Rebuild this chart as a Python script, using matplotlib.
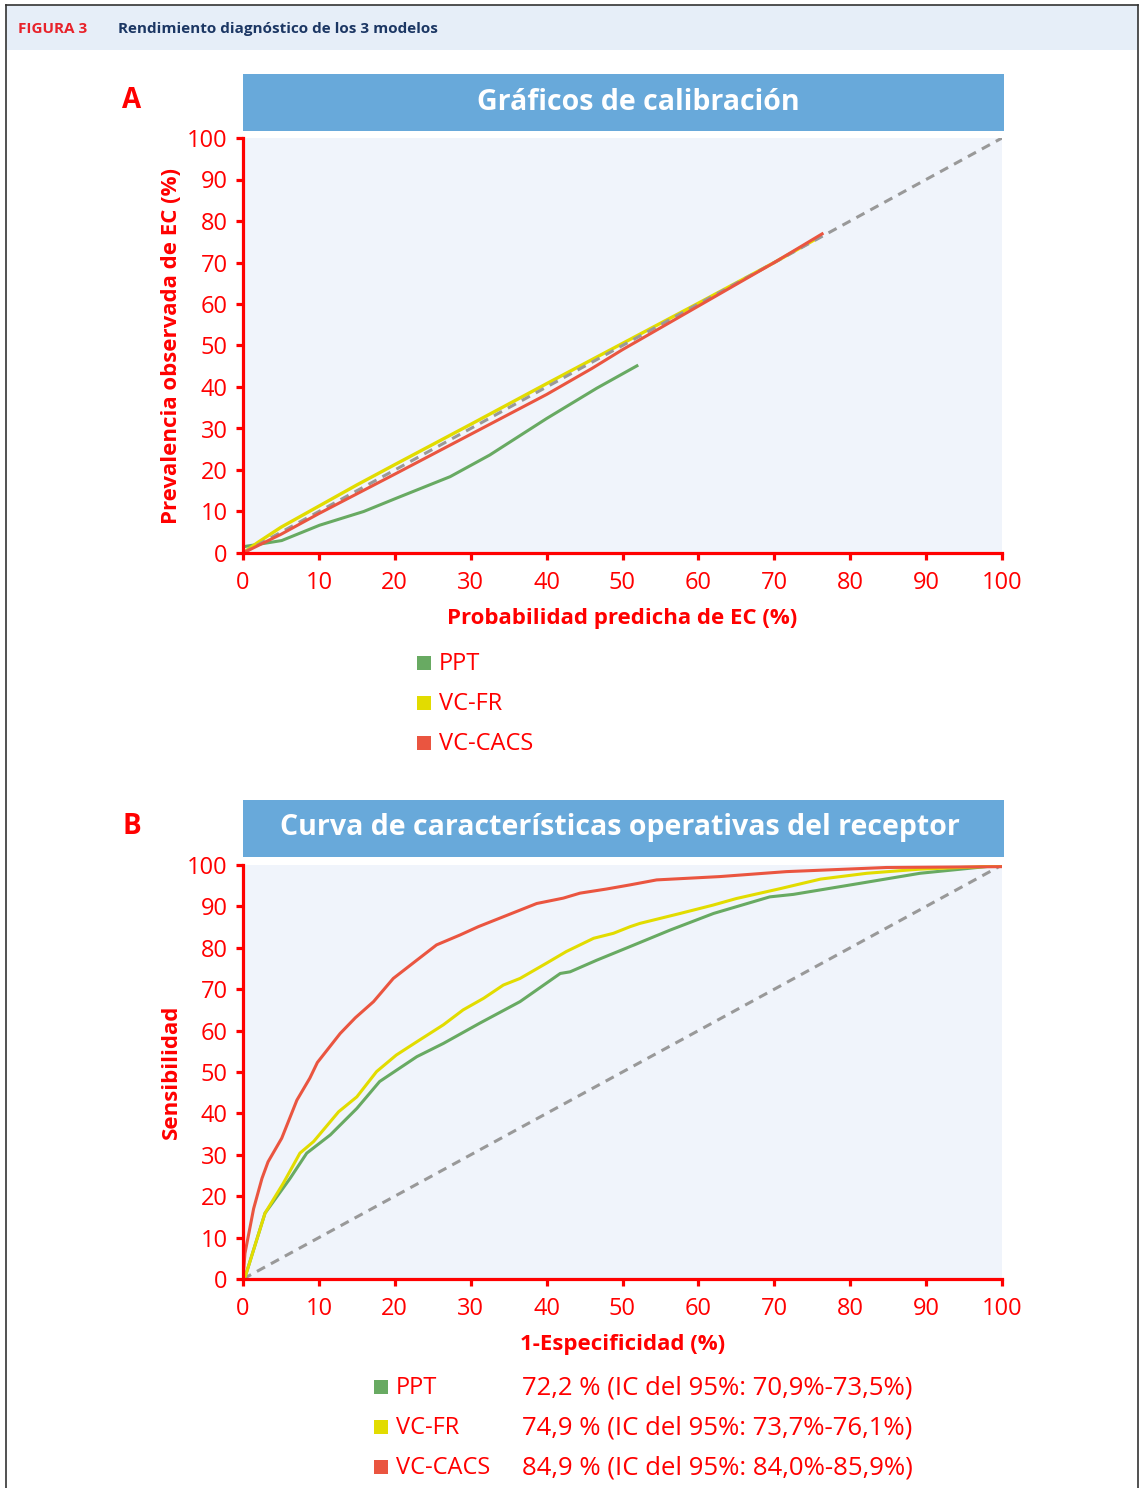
import numpy as np
import matplotlib
matplotlib.use("Agg")
import matplotlib.pyplot as plt
from matplotlib.patches import Rectangle

plt.rcParams['font.family'] = ['Open Sans', 'DejaVu Sans']

# ---- data ----
models = ['PPT', 'VC-FR', 'VC-CACS']
colors = ['#68aa62', '#e2dc00', '#ea5540']
auc_text = ['72,2 % (IC del 95%: 70,9%-73,5%)',
            '74,9 % (IC del 95%: 73,7%-76,1%)',
            '84,9 % (IC del 95%: 84,0%-85,9%)']

# calibration curves
cal_ppt_x = [0, 5.1, 10.1, 15.9, 20.2, 27.3, 32.5, 40, 46.6, 51.9]
cal_ppt_y = [1.5, 3.0, 6.7, 10.0, 13.2, 18.4, 23.6, 32.4, 39.7, 45.1]
cal_fr_x = [0, 2, 5, 10, 15, 20, 30, 40, 50, 60, 70, 76]
cal_fr_y = [0, 2.6, 6.2, 11.3, 16.4, 21.3, 31.0, 40.8, 50.5, 60.2, 70.0, 76.2]
cal_cacs_x = [0, 5, 10, 20, 30, 40, 46, 50, 60, 70, 76.3]
cal_cacs_y = [0, 4.5, 9.5, 19.0, 28.6, 38.2, 44.5, 49.0, 59.5, 70.0, 76.9]

# ROC curves (1-specificity, sensitivity)
roc_ppt_x = [0, 0.3, 2.9, 6.2, 8.4, 11.5, 15, 18, 22.9, 26.4, 31.2, 36.5, 41.8, 43.1,
             46.6, 51, 56.3, 62, 69.4, 72.5, 80.4, 89.2, 100]
roc_ppt_y = [0, 0.6, 15.9, 24.3, 30.4, 34.8, 41.2, 47.7, 53.7, 56.9, 61.8, 67.0, 73.8, 74.2,
             77.0, 80.3, 84.3, 88.3, 92.3, 92.9, 95.3, 98.0, 100]
roc_fr_x = [0, 0.3, 2.9, 5.3, 7.5, 9.3, 12.6, 15, 17.6, 20.2, 22.9, 26.4, 29, 31.7, 34.3,
            36.5, 40, 42.6, 46.2, 48.8, 51, 52.3, 57.6, 61.9, 65, 70.8, 76.1, 82.2, 89.2, 100]
roc_fr_y = [0, 0.6, 15.9, 23.1, 30.4, 33.2, 40.4, 44.0, 50.1, 54.1, 57.3, 61.4, 65.0, 67.8, 71.0,
            72.6, 76.3, 79.1, 82.3, 83.5, 85.1, 85.9, 88.3, 90.3, 91.9, 94.3, 96.6, 98.0, 99.0, 99.8]
roc_cacs_x = [0, 0.26, 1.4, 2.5, 3.3, 5.1, 7.1, 8.8, 9.8, 12.8, 14.8, 17.2, 19.8, 22.4, 25.5,
              28.6, 31, 34.3, 38.7, 42.2, 44.4, 47.9, 51, 54.5, 62.8, 71.6, 84.8, 100]
roc_cacs_y = [0, 6.2, 17.0, 24.3, 28.3, 34.0, 43.2, 48.5, 52.3, 59.3, 63.1, 67.0, 72.6, 76.3, 80.7,
              83.1, 85.1, 87.5, 90.7, 92.0, 93.2, 94.2, 95.2, 96.4, 97.2, 98.4, 99.4, 99.6]

ticks = list(range(0, 101, 10))

W, H = 1141, 1488
fig = plt.figure(figsize=(W / 100, H / 100), dpi=100)
RED = '#ff0000'


def fx(px):
    return px / W


def fy(py):
    return 1 - py / H


# header band and frame
fig.patches.append(Rectangle((fx(6), fy(50)), fx(1132), 45 / H, transform=fig.transFigure,
                             facecolor='#e6eef8', edgecolor='none'))
fig.lines.append(plt.Line2D([fx(6), fx(6)], [0, fy(5)], transform=fig.transFigure, color='#333333', lw=1.2))
fig.lines.append(plt.Line2D([fx(1138), fx(1138)], [0, fy(5)], transform=fig.transFigure, color='#333333', lw=1.2))
fig.lines.append(plt.Line2D([fx(6), fx(1138)], [fy(5), fy(5)], transform=fig.transFigure, color='#333333', lw=1.2))
fig.text(fx(18), fy(29), 'FIGURA 3', color='#e8222a', fontsize=11, fontweight='bold', va='center')
fig.text(fx(118), fy(29), 'Rendimiento diagnóstico de los 3 modelos', color='#1c3764',
         fontsize=11, fontweight='bold', va='center')


def make_axes(top, bottom, title, bar_top, letter, xlabel, ylabel, title_x):
    ax = fig.add_axes([fx(243), fy(bottom), fx(1002) - fx(243), (bottom - top) / H])
    ax.set_facecolor('#f0f4fb')
    ax.set_xlim(0, 100)
    ax.set_ylim(0, 100)
    ax.set_xticks(ticks)
    ax.set_yticks(ticks)
    for s in ['top', 'right']:
        ax.spines[s].set_visible(False)
    for s in ['left', 'bottom']:
        ax.spines[s].set_color(RED)
        ax.spines[s].set_linewidth(2.3)
    ax.tick_params(colors=RED, labelcolor=RED, width=2.3, length=5, labelsize=17, pad=6)
    ax.tick_params(axis='x', pad=8)
    ax.set_xlabel(xlabel, color=RED, fontsize=16, fontweight='bold', labelpad=9)
    ax.set_ylabel(ylabel, color=RED, fontsize=16, fontweight='bold', labelpad=4)
    # title bar
    fig.patches.append(Rectangle((fx(243), fy(bar_top + 57)), fx(1004) - fx(243), 57 / H,
                                 transform=fig.transFigure, facecolor='#68a9da', edgecolor='none'))
    fig.text(fx(title_x), fy(bar_top + 28), title, color='white', fontsize=20.5, fontweight='bold',
             ha='center', va='center')
    fig.text(fx(132), fy(bar_top + 27), letter, color=RED, fontsize=20, fontweight='bold',
             ha='center', va='center')
    return ax


axA = make_axes(138, 553, 'Gráficos de calibración', 74, 'A',
                'Probabilidad predicha de EC (%)', 'Prevalencia observada de EC (%)', 638)
axA.plot(cal_ppt_x, cal_ppt_y, color=colors[0], lw=2.2)
axA.plot(cal_fr_x, cal_fr_y, color=colors[1], lw=2.4)
axA.plot([0, 100], [0, 100], color='#999999', lw=2.2, ls=(0, (3, 2.2)))
axA.plot(cal_cacs_x, cal_cacs_y, color=colors[2], lw=2.2)

axB = make_axes(865, 1279, 'Curva de características operativas del receptor', 800, 'B',
                '1-Especificidad (%)', 'Sensibilidad', 620)
axB.plot([0, 100], [0, 100], color='#999999', lw=2.2, ls=(0, (3, 2.2)))
axB.plot(roc_ppt_x, roc_ppt_y, color=colors[0], lw=2.2)
axB.plot(roc_fr_x, roc_fr_y, color=colors[1], lw=2.2)
axB.plot(roc_cacs_x, roc_cacs_y, color=colors[2], lw=2.2)

# legends
for i, m in enumerate(models):
    y = 663 + 40 * i
    fig.patches.append(Rectangle((fx(417), fy(y + 7)), 14 / W, 14 / H, transform=fig.transFigure,
                                 facecolor=colors[i], edgecolor='none'))
    fig.text(fx(439), fy(y + 1), m, color=RED, fontsize=17, va='center')

for i, m in enumerate(models):
    y = 1387 + 40 * i
    fig.patches.append(Rectangle((fx(374), fy(y + 7)), 14 / W, 14 / H, transform=fig.transFigure,
                                 facecolor=colors[i], edgecolor='none'))
    fig.text(fx(396), fy(y + 1), m, color=RED, fontsize=17, va='center')
    fig.text(fx(522), fy(y + 1), auc_text[i], color=RED, fontsize=18.5, va='center')

fig.savefig('out.png', dpi=100)
